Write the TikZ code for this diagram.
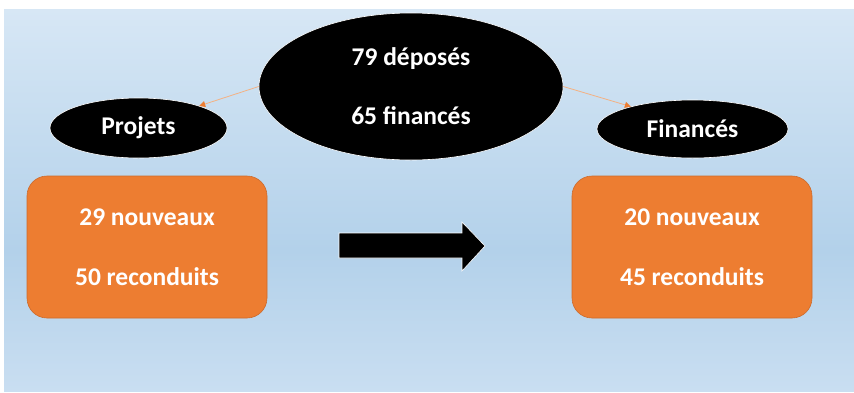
\documentclass[tikz,border=0pt]{standalone}
\usepackage{fontspec}
\setmainfont{Carlito}
\usetikzlibrary{shapes.geometric,arrows.meta,positioning}
\definecolor{bgTop}{HTML}{D7E7F5}
\definecolor{bgMid}{HTML}{B3D1EA}
\definecolor{bgBot}{HTML}{C9DEF1}
\definecolor{boxOrange}{HTML}{ED7D31}
\definecolor{boxEdge}{HTML}{CC6A2C}
\definecolor{lineOrange}{HTML}{F4B183}

\begin{document}
\begin{tikzpicture}[
	x=1pt, y=-1pt,
	every node/.style={font=\fontsize{25.5}{30}\selectfont\bfseries, text=white, align=center},
	blob/.style={ellipse, fill=black, draw=white, line width=0.6pt, inner sep=0pt},
	card/.style={rectangle, rounded corners=20pt, fill=boxOrange, draw=boxEdge, line width=0.6pt, minimum width=240pt, minimum height=142pt},
	link/.style={lineOrange, line width=0.8pt, -{Triangle[length=6pt, width=6pt, color=boxOrange]}}
	]

		\useasboundingbox (0,0) rectangle (854,392);
		
		% Background
		\fill[top color=bgTop, bottom color=bgMid] (4,9) rectangle (854,250);
		\fill[top color=bgMid, bottom color=bgBot] (4,250) rectangle (854,391);
		
		% Nodes
		\node[blob, minimum width=304pt, minimum height=147pt] (depose) at (411,86.5) {79 déposés\\[29pt]65 financés};
		\node[blob, minimum width=177pt, minimum height=60pt] (projets) at (138.5,128) {Projets};
		\node[blob, minimum width=191pt, minimum height=58pt] (finances) at (692.5,129) {Financés};
		
		\node[card] (avant) at (147,247) {29 nouveaux\\[30pt]50 reconduits};
		\node[card] (apres) at (692,247) {20 nouveaux\\[30pt]45 reconduits};
		
		% Links
		\draw[link] (depose.west) -- (projets.20);
		\draw[link] (depose.east) -- (finances.160);
		
		% Big arrow
		\filldraw[fill=black, draw=white, line width=0.6pt] (339,233) -- (462,233) -- (462,222) -- (485,246) -- (462,271) -- (462,258) -- (339,258) -- cycle;
	\end{tikzpicture}
\end{document}
